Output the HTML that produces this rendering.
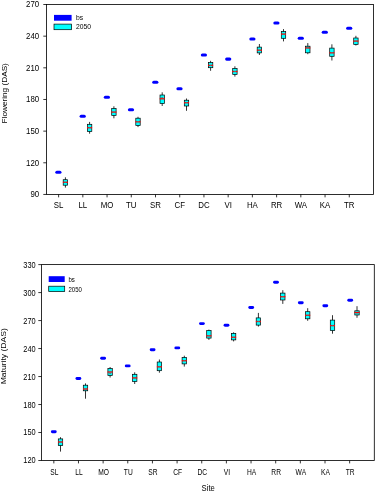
<!DOCTYPE html>
<html><head><meta charset="utf-8"><title>Flowering and Maturity by Site</title>
<style>html,body{margin:0;padding:0;background:#fff;}svg{display:block;}</style>
</head><body>
<svg width="375" height="494" viewBox="0 0 375 494" font-family='"Liberation Sans", sans-serif' fill="#000">
<rect width="375" height="494" fill="#fff"/>
<rect x="46.5" y="4.5" width="327.00" height="189.95" fill="none" stroke="#000" stroke-width="0.82"/>
<line x1="43.30" y1="4.50" x2="46.5" y2="4.50" stroke="#000" stroke-width="0.8"/>
<text transform="translate(39.20,7.45) scale(0.96,1)" font-size="8.2" text-anchor="end">270</text>
<line x1="43.30" y1="36.16" x2="46.5" y2="36.16" stroke="#000" stroke-width="0.8"/>
<text transform="translate(39.20,39.11) scale(0.96,1)" font-size="8.2" text-anchor="end">240</text>
<line x1="43.30" y1="67.82" x2="46.5" y2="67.82" stroke="#000" stroke-width="0.8"/>
<text transform="translate(39.20,70.77) scale(0.96,1)" font-size="8.2" text-anchor="end">210</text>
<line x1="43.30" y1="99.47" x2="46.5" y2="99.47" stroke="#000" stroke-width="0.8"/>
<text transform="translate(39.20,102.43) scale(0.96,1)" font-size="8.2" text-anchor="end">180</text>
<line x1="43.30" y1="131.13" x2="46.5" y2="131.13" stroke="#000" stroke-width="0.8"/>
<text transform="translate(39.20,134.09) scale(0.96,1)" font-size="8.2" text-anchor="end">150</text>
<line x1="43.30" y1="162.79" x2="46.5" y2="162.79" stroke="#000" stroke-width="0.8"/>
<text transform="translate(39.20,165.74) scale(0.96,1)" font-size="8.2" text-anchor="end">120</text>
<line x1="43.30" y1="194.45" x2="46.5" y2="194.45" stroke="#000" stroke-width="0.8"/>
<text transform="translate(39.20,197.40) scale(0.96,1)" font-size="8.2" text-anchor="end">90</text>
<line x1="58.61" y1="194.45" x2="58.61" y2="197.35" stroke="#000" stroke-width="0.8"/>
<text transform="translate(58.61,208.00) scale(0.96,1)" font-size="8.2" text-anchor="middle">SL</text>
<line x1="82.83" y1="194.45" x2="82.83" y2="197.35" stroke="#000" stroke-width="0.8"/>
<text transform="translate(82.83,208.00) scale(0.96,1)" font-size="8.2" text-anchor="middle">LL</text>
<line x1="107.06" y1="194.45" x2="107.06" y2="197.35" stroke="#000" stroke-width="0.8"/>
<text transform="translate(107.06,208.00) scale(0.96,1)" font-size="8.2" text-anchor="middle">MO</text>
<line x1="131.28" y1="194.45" x2="131.28" y2="197.35" stroke="#000" stroke-width="0.8"/>
<text transform="translate(131.28,208.00) scale(0.96,1)" font-size="8.2" text-anchor="middle">TU</text>
<line x1="155.50" y1="194.45" x2="155.50" y2="197.35" stroke="#000" stroke-width="0.8"/>
<text transform="translate(155.50,208.00) scale(0.96,1)" font-size="8.2" text-anchor="middle">SR</text>
<line x1="179.72" y1="194.45" x2="179.72" y2="197.35" stroke="#000" stroke-width="0.8"/>
<text transform="translate(179.72,208.00) scale(0.96,1)" font-size="8.2" text-anchor="middle">CF</text>
<line x1="203.94" y1="194.45" x2="203.94" y2="197.35" stroke="#000" stroke-width="0.8"/>
<text transform="translate(203.94,208.00) scale(0.96,1)" font-size="8.2" text-anchor="middle">DC</text>
<line x1="228.17" y1="194.45" x2="228.17" y2="197.35" stroke="#000" stroke-width="0.8"/>
<text transform="translate(228.17,208.00) scale(0.96,1)" font-size="8.2" text-anchor="middle">VI</text>
<line x1="252.39" y1="194.45" x2="252.39" y2="197.35" stroke="#000" stroke-width="0.8"/>
<text transform="translate(252.39,208.00) scale(0.96,1)" font-size="8.2" text-anchor="middle">HA</text>
<line x1="276.61" y1="194.45" x2="276.61" y2="197.35" stroke="#000" stroke-width="0.8"/>
<text transform="translate(276.61,208.00) scale(0.96,1)" font-size="8.2" text-anchor="middle">RR</text>
<line x1="300.83" y1="194.45" x2="300.83" y2="197.35" stroke="#000" stroke-width="0.8"/>
<text transform="translate(300.83,208.00) scale(0.96,1)" font-size="8.2" text-anchor="middle">WA</text>
<line x1="325.06" y1="194.45" x2="325.06" y2="197.35" stroke="#000" stroke-width="0.8"/>
<text transform="translate(325.06,208.00) scale(0.96,1)" font-size="8.2" text-anchor="middle">KA</text>
<line x1="349.28" y1="194.45" x2="349.28" y2="197.35" stroke="#000" stroke-width="0.8"/>
<text transform="translate(349.28,208.00) scale(0.96,1)" font-size="8.2" text-anchor="middle">TR</text>
<text transform="translate(7.20,93.30) rotate(-90) scale(1.075,1)" font-size="7.65" text-anchor="middle">Flowering (DAS)</text>
<rect x="54.0" y="14.9" width="17.60" height="5.80" fill="#0000ff"/>
<rect x="54.0" y="24.1" width="17.60" height="5.60" fill="#00ffff" stroke="#000" stroke-width="0.7"/>
<text transform="translate(76.00,20.10) scale(0.97,1)" font-size="7">bs</text>
<text transform="translate(76.00,29.20) scale(0.97,1)" font-size="7">2050</text>
<rect x="55.30" y="170.65" width="6.2" height="3.1" rx="1.55" fill="#0000ff"/>
<rect x="79.60" y="114.65" width="6.2" height="3.1" rx="1.55" fill="#0000ff"/>
<rect x="103.80" y="95.65" width="6.2" height="3.1" rx="1.55" fill="#0000ff"/>
<rect x="127.90" y="108.25" width="6.2" height="3.1" rx="1.55" fill="#0000ff"/>
<rect x="152.20" y="80.65" width="6.2" height="3.1" rx="1.55" fill="#0000ff"/>
<rect x="176.40" y="87.15" width="6.2" height="3.1" rx="1.55" fill="#0000ff"/>
<rect x="200.80" y="53.45" width="6.2" height="3.1" rx="1.55" fill="#0000ff"/>
<rect x="225.10" y="57.55" width="6.2" height="3.1" rx="1.55" fill="#0000ff"/>
<rect x="249.30" y="37.45" width="6.2" height="3.1" rx="1.55" fill="#0000ff"/>
<rect x="273.30" y="21.45" width="6.2" height="3.1" rx="1.55" fill="#0000ff"/>
<rect x="297.70" y="36.65" width="6.2" height="3.1" rx="1.55" fill="#0000ff"/>
<rect x="321.70" y="30.75" width="6.2" height="3.1" rx="1.55" fill="#0000ff"/>
<rect x="346.10" y="26.65" width="6.2" height="3.1" rx="1.55" fill="#0000ff"/>
<line x1="65.4" y1="177.3" x2="65.4" y2="187.6" stroke="#000" stroke-width="0.8"/>
<rect x="63.20" y="179.7" width="4.4" height="5.50" fill="#00ffff" stroke="#000" stroke-width="0.7"/>
<line x1="62.90" y1="182.3" x2="67.90" y2="182.3" stroke="#ff0000" stroke-width="1.3"/>
<line x1="64.40" y1="182.3" x2="66.40" y2="182.3" stroke="#707070" stroke-width="0.9"/>
<line x1="89.6" y1="121.9" x2="89.6" y2="133.7" stroke="#000" stroke-width="0.8"/>
<rect x="87.40" y="124.3" width="4.4" height="7.20" fill="#00ffff" stroke="#000" stroke-width="0.7"/>
<line x1="87.10" y1="127.7" x2="92.10" y2="127.7" stroke="#ff0000" stroke-width="1.3"/>
<line x1="88.60" y1="127.7" x2="90.60" y2="127.7" stroke="#707070" stroke-width="0.9"/>
<line x1="113.9" y1="106.3" x2="113.9" y2="118.3" stroke="#000" stroke-width="0.8"/>
<rect x="111.70" y="108.5" width="4.4" height="6.90" fill="#00ffff" stroke="#000" stroke-width="0.7"/>
<line x1="111.40" y1="112.1" x2="116.40" y2="112.1" stroke="#ff0000" stroke-width="1.3"/>
<line x1="112.90" y1="112.1" x2="114.90" y2="112.1" stroke="#707070" stroke-width="0.9"/>
<line x1="138" y1="116.8" x2="138" y2="127.1" stroke="#000" stroke-width="0.8"/>
<rect x="135.80" y="118.2" width="4.4" height="7.20" fill="#00ffff" stroke="#000" stroke-width="0.7"/>
<line x1="135.50" y1="121.8" x2="140.50" y2="121.8" stroke="#ff0000" stroke-width="1.3"/>
<line x1="137.00" y1="121.8" x2="139.00" y2="121.8" stroke="#707070" stroke-width="0.9"/>
<line x1="162.2" y1="92.3" x2="162.2" y2="106" stroke="#000" stroke-width="0.8"/>
<rect x="160.00" y="95" width="4.4" height="8.60" fill="#00ffff" stroke="#000" stroke-width="0.7"/>
<line x1="159.70" y1="98.8" x2="164.70" y2="98.8" stroke="#ff0000" stroke-width="1.3"/>
<line x1="161.20" y1="97.5" x2="163.20" y2="97.5" stroke="#707070" stroke-width="0.9"/>
<line x1="186.5" y1="98.5" x2="186.5" y2="110.8" stroke="#000" stroke-width="0.8"/>
<rect x="184.30" y="100.2" width="4.4" height="5.80" fill="#00ffff" stroke="#000" stroke-width="0.7"/>
<line x1="184.00" y1="102.7" x2="189.00" y2="102.7" stroke="#ff0000" stroke-width="1.3"/>
<line x1="185.50" y1="102.7" x2="187.50" y2="102.7" stroke="#707070" stroke-width="0.9"/>
<line x1="210.6" y1="60.8" x2="210.6" y2="70.8" stroke="#000" stroke-width="0.8"/>
<rect x="208.40" y="62.5" width="4.4" height="5.20" fill="#00ffff" stroke="#000" stroke-width="0.7"/>
<line x1="208.10" y1="65.4" x2="213.10" y2="65.4" stroke="#ff0000" stroke-width="1.3"/>
<line x1="209.60" y1="65.4" x2="211.60" y2="65.4" stroke="#707070" stroke-width="0.9"/>
<line x1="234.9" y1="66.3" x2="234.9" y2="76.6" stroke="#000" stroke-width="0.8"/>
<rect x="232.70" y="68.4" width="4.4" height="6.10" fill="#00ffff" stroke="#000" stroke-width="0.7"/>
<line x1="232.40" y1="71.5" x2="237.40" y2="71.5" stroke="#ff0000" stroke-width="1.3"/>
<line x1="233.90" y1="71.5" x2="235.90" y2="71.5" stroke="#707070" stroke-width="0.9"/>
<line x1="259.4" y1="44" x2="259.4" y2="55" stroke="#000" stroke-width="0.8"/>
<rect x="257.20" y="47.1" width="4.4" height="5.80" fill="#00ffff" stroke="#000" stroke-width="0.7"/>
<line x1="256.90" y1="50.2" x2="261.90" y2="50.2" stroke="#ff0000" stroke-width="1.3"/>
<line x1="258.40" y1="50.2" x2="260.40" y2="50.2" stroke="#707070" stroke-width="0.9"/>
<line x1="283.5" y1="29.1" x2="283.5" y2="41.4" stroke="#000" stroke-width="0.8"/>
<rect x="281.30" y="31.6" width="4.4" height="6.70" fill="#00ffff" stroke="#000" stroke-width="0.7"/>
<line x1="281.00" y1="34.1" x2="286.00" y2="34.1" stroke="#ff0000" stroke-width="1.3"/>
<line x1="282.50" y1="34.1" x2="284.50" y2="34.1" stroke="#707070" stroke-width="0.9"/>
<line x1="307.8" y1="43.1" x2="307.8" y2="54.2" stroke="#000" stroke-width="0.8"/>
<rect x="305.60" y="46.2" width="4.4" height="6.60" fill="#00ffff" stroke="#000" stroke-width="0.7"/>
<line x1="305.30" y1="47.9" x2="310.30" y2="47.9" stroke="#ff0000" stroke-width="1.3"/>
<line x1="306.80" y1="47.9" x2="308.80" y2="47.9" stroke="#707070" stroke-width="0.9"/>
<line x1="331.9" y1="44.3" x2="331.9" y2="60.5" stroke="#000" stroke-width="0.8"/>
<rect x="329.70" y="48.1" width="4.4" height="8.20" fill="#00ffff" stroke="#000" stroke-width="0.7"/>
<line x1="329.40" y1="52.8" x2="334.40" y2="52.8" stroke="#ff0000" stroke-width="1.3"/>
<line x1="330.90" y1="52.8" x2="332.90" y2="52.8" stroke="#707070" stroke-width="0.9"/>
<line x1="355.9" y1="35.8" x2="355.9" y2="45.5" stroke="#000" stroke-width="0.8"/>
<rect x="353.70" y="38.0" width="4.4" height="6.40" fill="#00ffff" stroke="#000" stroke-width="0.7"/>
<line x1="353.40" y1="41.1" x2="358.40" y2="41.1" stroke="#ff0000" stroke-width="1.3"/>
<line x1="354.90" y1="41.1" x2="356.90" y2="41.1" stroke="#707070" stroke-width="0.9"/>
<rect x="41.5" y="264.6" width="332.80" height="195.90" fill="none" stroke="#000" stroke-width="0.82"/>
<line x1="38.30" y1="264.60" x2="41.5" y2="264.60" stroke="#000" stroke-width="0.8"/>
<text transform="translate(35.60,267.57) scale(0.86,1)" font-size="8.6" text-anchor="end">330</text>
<line x1="38.30" y1="292.59" x2="41.5" y2="292.59" stroke="#000" stroke-width="0.8"/>
<text transform="translate(35.60,295.55) scale(0.86,1)" font-size="8.6" text-anchor="end">300</text>
<line x1="38.30" y1="320.57" x2="41.5" y2="320.57" stroke="#000" stroke-width="0.8"/>
<text transform="translate(35.60,323.54) scale(0.86,1)" font-size="8.6" text-anchor="end">270</text>
<line x1="38.30" y1="348.56" x2="41.5" y2="348.56" stroke="#000" stroke-width="0.8"/>
<text transform="translate(35.60,351.52) scale(0.86,1)" font-size="8.6" text-anchor="end">240</text>
<line x1="38.30" y1="376.54" x2="41.5" y2="376.54" stroke="#000" stroke-width="0.8"/>
<text transform="translate(35.60,379.51) scale(0.86,1)" font-size="8.6" text-anchor="end">210</text>
<line x1="38.30" y1="404.53" x2="41.5" y2="404.53" stroke="#000" stroke-width="0.8"/>
<text transform="translate(35.60,407.50) scale(0.86,1)" font-size="8.6" text-anchor="end">180</text>
<line x1="38.30" y1="432.51" x2="41.5" y2="432.51" stroke="#000" stroke-width="0.8"/>
<text transform="translate(35.60,435.48) scale(0.86,1)" font-size="8.6" text-anchor="end">150</text>
<line x1="38.30" y1="460.50" x2="41.5" y2="460.50" stroke="#000" stroke-width="0.8"/>
<text transform="translate(35.60,463.47) scale(0.86,1)" font-size="8.6" text-anchor="end">120</text>
<line x1="53.83" y1="460.5" x2="53.83" y2="463.40" stroke="#000" stroke-width="0.8"/>
<text transform="translate(54.33,474.60) scale(0.82,1)" font-size="8.15" text-anchor="middle">SL</text>
<line x1="78.48" y1="460.5" x2="78.48" y2="463.40" stroke="#000" stroke-width="0.8"/>
<text transform="translate(78.98,474.60) scale(0.82,1)" font-size="8.15" text-anchor="middle">LL</text>
<line x1="103.13" y1="460.5" x2="103.13" y2="463.40" stroke="#000" stroke-width="0.8"/>
<text transform="translate(103.63,474.60) scale(0.82,1)" font-size="8.15" text-anchor="middle">MO</text>
<line x1="127.78" y1="460.5" x2="127.78" y2="463.40" stroke="#000" stroke-width="0.8"/>
<text transform="translate(128.28,474.60) scale(0.82,1)" font-size="8.15" text-anchor="middle">TU</text>
<line x1="152.43" y1="460.5" x2="152.43" y2="463.40" stroke="#000" stroke-width="0.8"/>
<text transform="translate(152.93,474.60) scale(0.82,1)" font-size="8.15" text-anchor="middle">SR</text>
<line x1="177.09" y1="460.5" x2="177.09" y2="463.40" stroke="#000" stroke-width="0.8"/>
<text transform="translate(177.59,474.60) scale(0.82,1)" font-size="8.15" text-anchor="middle">CF</text>
<line x1="201.74" y1="460.5" x2="201.74" y2="463.40" stroke="#000" stroke-width="0.8"/>
<text transform="translate(202.24,474.60) scale(0.82,1)" font-size="8.15" text-anchor="middle">DC</text>
<line x1="226.39" y1="460.5" x2="226.39" y2="463.40" stroke="#000" stroke-width="0.8"/>
<text transform="translate(226.89,474.60) scale(0.82,1)" font-size="8.15" text-anchor="middle">VI</text>
<line x1="251.04" y1="460.5" x2="251.04" y2="463.40" stroke="#000" stroke-width="0.8"/>
<text transform="translate(251.54,474.60) scale(0.82,1)" font-size="8.15" text-anchor="middle">HA</text>
<line x1="275.69" y1="460.5" x2="275.69" y2="463.40" stroke="#000" stroke-width="0.8"/>
<text transform="translate(276.19,474.60) scale(0.82,1)" font-size="8.15" text-anchor="middle">RR</text>
<line x1="300.34" y1="460.5" x2="300.34" y2="463.40" stroke="#000" stroke-width="0.8"/>
<text transform="translate(300.84,474.60) scale(0.82,1)" font-size="8.15" text-anchor="middle">WA</text>
<line x1="325.00" y1="460.5" x2="325.00" y2="463.40" stroke="#000" stroke-width="0.8"/>
<text transform="translate(325.50,474.60) scale(0.82,1)" font-size="8.15" text-anchor="middle">KA</text>
<line x1="349.65" y1="460.5" x2="349.65" y2="463.40" stroke="#000" stroke-width="0.8"/>
<text transform="translate(350.15,474.60) scale(0.82,1)" font-size="8.15" text-anchor="middle">TR</text>
<text transform="translate(6.30,356.30) rotate(-90) scale(1.09,1)" font-size="7.85" text-anchor="middle">Maturity (DAS)</text>
<rect x="48.7" y="276.2" width="16.00" height="5.80" fill="#0000ff"/>
<rect x="48.7" y="286.2" width="16.00" height="5.40" fill="#00ffff" stroke="#000" stroke-width="0.7"/>
<text transform="translate(68.50,282.00) scale(0.84,1)" font-size="7.2">bs</text>
<text transform="translate(68.50,292.00) scale(0.84,1)" font-size="7.2">2050</text>
<rect x="50.90" y="430.35" width="5.8" height="2.9" rx="1.45" fill="#0000ff"/>
<rect x="75.50" y="377.05" width="5.8" height="2.9" rx="1.45" fill="#0000ff"/>
<rect x="100.20" y="356.85" width="5.8" height="2.9" rx="1.45" fill="#0000ff"/>
<rect x="124.80" y="364.45" width="5.8" height="2.9" rx="1.45" fill="#0000ff"/>
<rect x="149.70" y="348.25" width="5.8" height="2.9" rx="1.45" fill="#0000ff"/>
<rect x="174.40" y="346.45" width="5.8" height="2.9" rx="1.45" fill="#0000ff"/>
<rect x="199.00" y="322.15" width="5.8" height="2.9" rx="1.45" fill="#0000ff"/>
<rect x="223.60" y="323.85" width="5.8" height="2.9" rx="1.45" fill="#0000ff"/>
<rect x="248.30" y="306.05" width="5.8" height="2.9" rx="1.45" fill="#0000ff"/>
<rect x="273.10" y="280.85" width="5.8" height="2.9" rx="1.45" fill="#0000ff"/>
<rect x="297.90" y="301.35" width="5.8" height="2.9" rx="1.45" fill="#0000ff"/>
<rect x="322.40" y="304.25" width="5.8" height="2.9" rx="1.45" fill="#0000ff"/>
<rect x="347.30" y="298.85" width="5.8" height="2.9" rx="1.45" fill="#0000ff"/>
<line x1="60.5" y1="437.2" x2="60.5" y2="451.6" stroke="#000" stroke-width="0.8"/>
<rect x="58.30" y="438.9" width="4.4" height="6.70" fill="#00ffff" stroke="#000" stroke-width="0.7"/>
<line x1="58.00" y1="442" x2="63.00" y2="442" stroke="#ff0000" stroke-width="1.3"/>
<line x1="59.50" y1="442" x2="61.50" y2="442" stroke="#707070" stroke-width="0.9"/>
<line x1="85.5" y1="383.4" x2="85.5" y2="398.7" stroke="#000" stroke-width="0.8"/>
<rect x="83.30" y="385.2" width="4.4" height="5.60" fill="#00ffff" stroke="#000" stroke-width="0.7"/>
<line x1="83.00" y1="389.0" x2="88.00" y2="389.0" stroke="#ff0000" stroke-width="1.3"/>
<line x1="84.50" y1="389.0" x2="86.50" y2="389.0" stroke="#707070" stroke-width="0.9"/>
<line x1="110.1" y1="367" x2="110.1" y2="377.5" stroke="#000" stroke-width="0.8"/>
<rect x="107.90" y="368.6" width="4.4" height="6.90" fill="#00ffff" stroke="#000" stroke-width="0.7"/>
<line x1="107.60" y1="372" x2="112.60" y2="372" stroke="#ff0000" stroke-width="1.3"/>
<line x1="109.10" y1="373.5" x2="111.10" y2="373.5" stroke="#707070" stroke-width="0.9"/>
<line x1="134.7" y1="372.3" x2="134.7" y2="384" stroke="#000" stroke-width="0.8"/>
<rect x="132.50" y="374.3" width="4.4" height="7.20" fill="#00ffff" stroke="#000" stroke-width="0.7"/>
<line x1="132.20" y1="377.9" x2="137.20" y2="377.9" stroke="#ff0000" stroke-width="1.3"/>
<line x1="133.70" y1="377.9" x2="135.70" y2="377.9" stroke="#707070" stroke-width="0.9"/>
<line x1="159.4" y1="359.5" x2="159.4" y2="372.7" stroke="#000" stroke-width="0.8"/>
<rect x="157.20" y="362" width="4.4" height="8.70" fill="#00ffff" stroke="#000" stroke-width="0.7"/>
<line x1="156.90" y1="366.8" x2="161.90" y2="366.8" stroke="#ff0000" stroke-width="1.3"/>
<line x1="158.40" y1="366.8" x2="160.40" y2="366.8" stroke="#707070" stroke-width="0.9"/>
<line x1="184.3" y1="355.7" x2="184.3" y2="366.6" stroke="#000" stroke-width="0.8"/>
<rect x="182.10" y="357.5" width="4.4" height="6.40" fill="#00ffff" stroke="#000" stroke-width="0.7"/>
<line x1="181.80" y1="360.7" x2="186.80" y2="360.7" stroke="#ff0000" stroke-width="1.3"/>
<line x1="183.30" y1="360.7" x2="185.30" y2="360.7" stroke="#707070" stroke-width="0.9"/>
<line x1="208.9" y1="329.6" x2="208.9" y2="339.9" stroke="#000" stroke-width="0.8"/>
<rect x="206.70" y="330.5" width="4.4" height="7.60" fill="#00ffff" stroke="#000" stroke-width="0.7"/>
<line x1="206.40" y1="335.8" x2="211.40" y2="335.8" stroke="#ff0000" stroke-width="1.3"/>
<line x1="207.90" y1="335.8" x2="209.90" y2="335.8" stroke="#707070" stroke-width="0.9"/>
<line x1="233.6" y1="332.3" x2="233.6" y2="341.4" stroke="#000" stroke-width="0.8"/>
<rect x="231.40" y="333.4" width="4.4" height="6.50" fill="#00ffff" stroke="#000" stroke-width="0.7"/>
<line x1="231.10" y1="337.3" x2="236.10" y2="337.3" stroke="#ff0000" stroke-width="1.3"/>
<line x1="232.60" y1="337.3" x2="234.60" y2="337.3" stroke="#707070" stroke-width="0.9"/>
<line x1="258.4" y1="312.9" x2="258.4" y2="326.6" stroke="#000" stroke-width="0.8"/>
<rect x="256.20" y="317.9" width="4.4" height="7.20" fill="#00ffff" stroke="#000" stroke-width="0.7"/>
<line x1="255.90" y1="321.5" x2="260.90" y2="321.5" stroke="#ff0000" stroke-width="1.3"/>
<line x1="257.40" y1="321.5" x2="259.40" y2="321.5" stroke="#707070" stroke-width="0.9"/>
<line x1="282.8" y1="290.2" x2="282.8" y2="303.9" stroke="#000" stroke-width="0.8"/>
<rect x="280.60" y="293.1" width="4.4" height="6.90" fill="#00ffff" stroke="#000" stroke-width="0.7"/>
<line x1="280.30" y1="296.7" x2="285.30" y2="296.7" stroke="#ff0000" stroke-width="1.3"/>
<line x1="281.80" y1="296.7" x2="283.80" y2="296.7" stroke="#707070" stroke-width="0.9"/>
<line x1="307.7" y1="308.2" x2="307.7" y2="320.8" stroke="#000" stroke-width="0.8"/>
<rect x="305.50" y="311.7" width="4.4" height="7.10" fill="#00ffff" stroke="#000" stroke-width="0.7"/>
<line x1="305.20" y1="315.3" x2="310.20" y2="315.3" stroke="#ff0000" stroke-width="1.3"/>
<line x1="306.70" y1="315.3" x2="308.70" y2="315.3" stroke="#707070" stroke-width="0.9"/>
<line x1="332.5" y1="315.2" x2="332.5" y2="333.7" stroke="#000" stroke-width="0.8"/>
<rect x="330.30" y="320.1" width="4.4" height="10.50" fill="#00ffff" stroke="#000" stroke-width="0.7"/>
<line x1="330.00" y1="325.6" x2="335.00" y2="325.6" stroke="#ff0000" stroke-width="1.3"/>
<line x1="331.50" y1="325.6" x2="333.50" y2="325.6" stroke="#707070" stroke-width="0.9"/>
<line x1="357" y1="306.2" x2="357" y2="317.8" stroke="#000" stroke-width="0.8"/>
<rect x="354.80" y="310.8" width="4.4" height="4.20" fill="#00ffff" stroke="#000" stroke-width="0.7"/>
<line x1="354.50" y1="312.5" x2="359.50" y2="312.5" stroke="#ff0000" stroke-width="1.3"/>
<line x1="356.00" y1="313.9" x2="358.00" y2="313.9" stroke="#707070" stroke-width="0.9"/>
<text transform="translate(208.20,491.40) scale(0.9,1)" font-size="8.5" text-anchor="middle">Site</text>
</svg>
</body></html>
